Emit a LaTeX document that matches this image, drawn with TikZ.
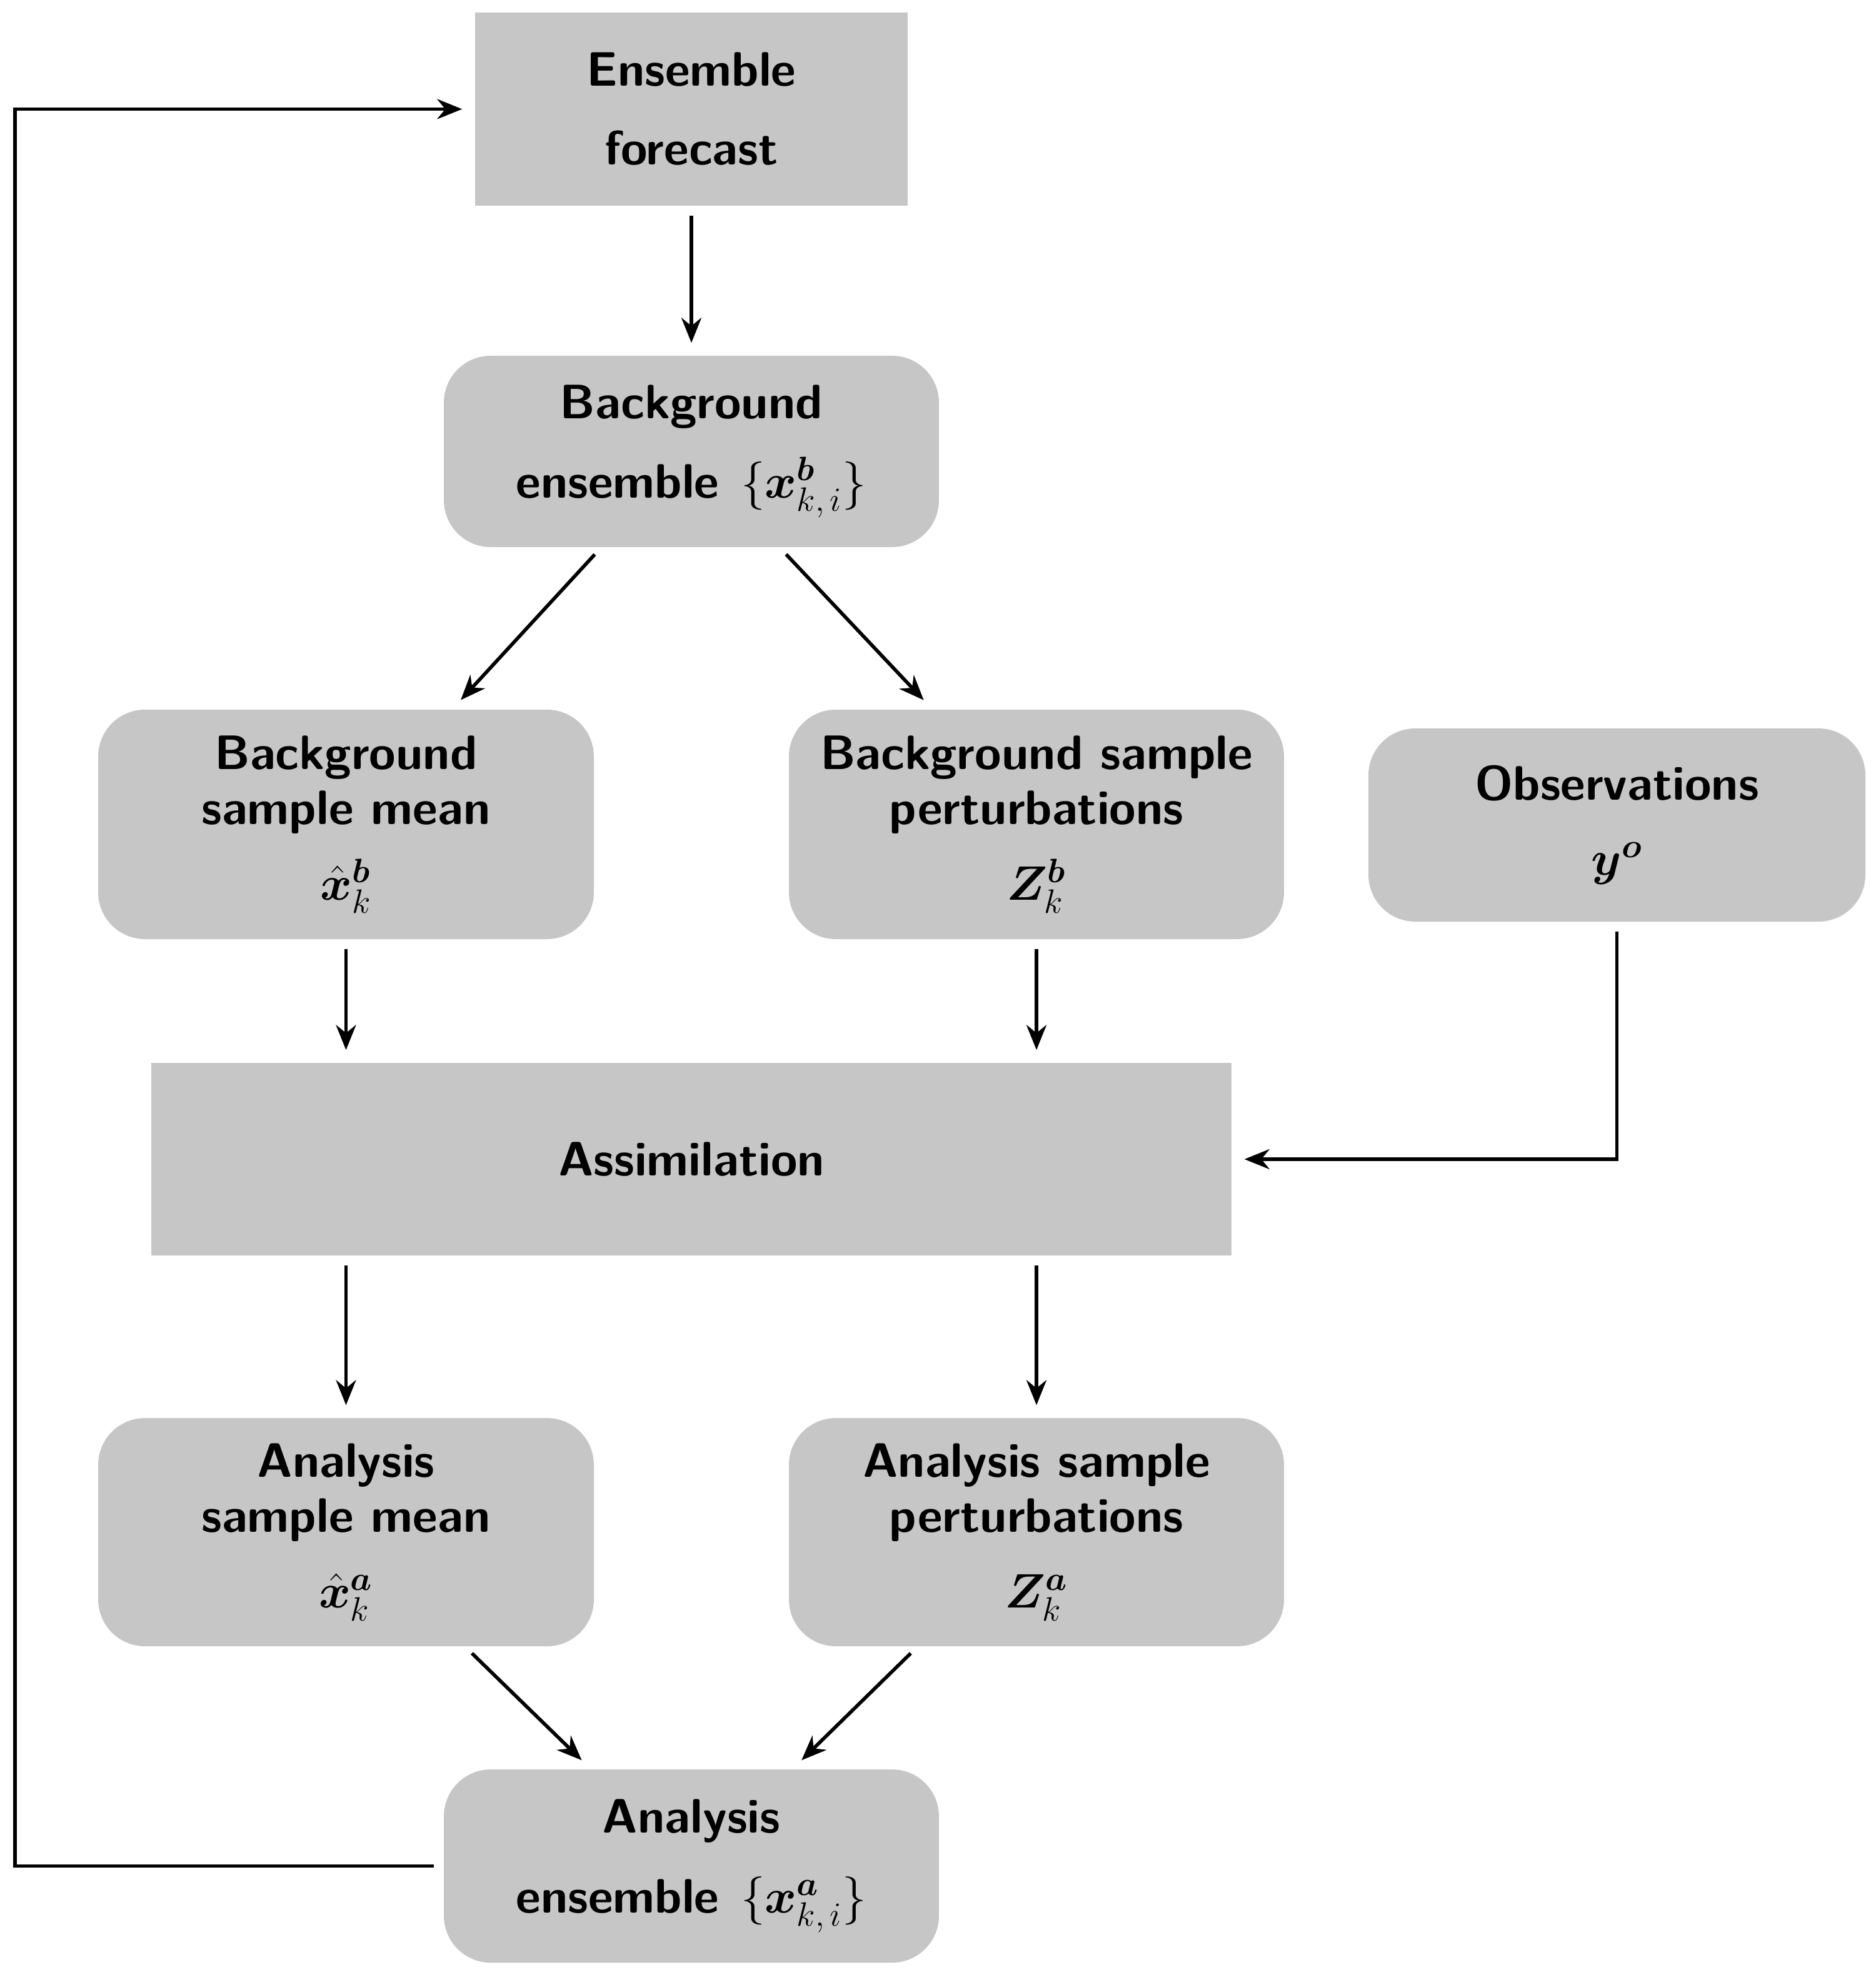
\RequirePackage{fix-cm}
\documentclass[tikz,border=0pt]{standalone}
\usepackage{amsmath,bm}
\usepackage{fontspec}
\usetikzlibrary{arrows.meta,calc}
\definecolor{boxgray}{RGB}{198,198,198}
\begin{document}
\begin{tikzpicture}[x=1cm,y=1cm,
  box/.style={fill=boxgray, draw=none, align=center, inner sep=0pt,
    font=\fontsize{22}{25.3}\selectfont\sffamily\bfseries},
  rbox/.style={box, rounded corners=0.75cm},
  arr/.style={-{Stealth[length=4mm,width=3.2mm]}, line width=1.6pt,
    shorten >=0.2cm, shorten <=0.15cm}]
\useasboundingbox (0,0) rectangle (30,-31.62);

\node[box, minimum width=6.92cm, minimum height=3.09cm] (ef) at (11.06,-1.745)
  {Ensemble\\[10.5pt]forecast};
\node[rbox, minimum width=7.92cm, minimum height=3.06cm] (be) at (11.06,-7.22)
  {Background\\[11pt]ensemble\hspace{0.45em}$\{\bm{x}^{\bm{b}}_{k,\,i}\}$};
\node[rbox, minimum width=7.93cm, minimum height=3.67cm] (bsm) at (5.535,-13.185)
  {Background\\sample mean\\[9pt]$\hat{\bm{x}}^{\bm{b}}_{k}$};
\node[rbox, minimum width=7.92cm, minimum height=3.67cm] (bsp) at (16.58,-13.185)
  {Background sample\\perturbations\\[9pt]$\bm{Z}^{\bm{b}}_{k}$};
\node[rbox, minimum width=7.95cm, minimum height=3.09cm] (obs) at (25.865,-13.195)
  {Observations\\[8.7pt]$\bm{y}^{\bm{o}}$};
\node[box, minimum width=17.28cm, minimum height=3.08cm] (assim) at (11.06,-18.54)
  {Assimilation};
\node[rbox, minimum width=7.93cm, minimum height=3.65cm] (asm) at (5.535,-24.505)
  {Analysis\\sample mean\\[9pt]$\hat{\bm{x}}^{\bm{a}}_{k}$};
\node[rbox, minimum width=7.92cm, minimum height=3.65cm] (asp) at (16.58,-24.505)
  {Analysis sample\\perturbations\\[9pt]$\bm{Z}^{\bm{a}}_{k}$};
\node[rbox, minimum width=7.92cm, minimum height=3.09cm] (ae) at (11.06,-29.845)
  {Analysis\\[11pt]ensemble\hspace{0.45em}$\{\bm{x}^{\bm{a}}_{k,\,i}\}$};

\coordinate (loopx) at (0.24,0);

\draw[arr] (ef.south) -- (be.north);
\draw[arr] ($(be.south west)!0.318!(be.south east)$) -- ($(bsm.north west)!0.714!(bsm.north east)$);
\draw[arr] ($(be.south west)!0.678!(be.south east)$) -- ($(bsp.north west)!0.29!(bsp.north east)$);
\draw[arr] (bsm.south) -- (bsm.south |- assim.north);
\draw[arr] (bsp.south) -- (bsp.south |- assim.north);
\draw[arr] (obs.south) |- (assim.east);
\draw[arr] (asm.north |- assim.south) -- (asm.north);
\draw[arr] (asp.north |- assim.south) -- (asp.north);
\draw[arr] ($(asm.south west)!0.74!(asm.south east)$) -- ($(ae.north west)!0.297!(ae.north east)$);
\draw[arr] ($(asp.south west)!0.26!(asp.south east)$) -- ($(ae.north west)!0.704!(ae.north east)$);
\draw[arr] (ae.west) -- (ae.west -| loopx) -- (ef.west -| loopx) -- (ef.west);
\end{tikzpicture}
\end{document}
